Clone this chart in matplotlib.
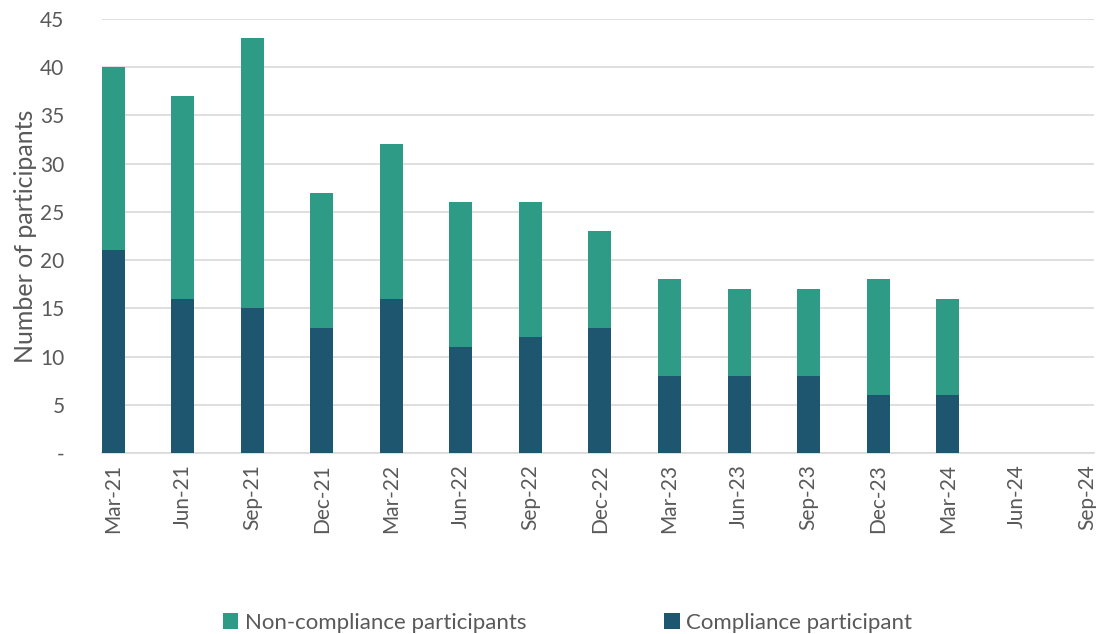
import matplotlib.pyplot as plt
import numpy as np

# quarterly participant counts
quarters = ['Mar-21', 'Jun-21', 'Sep-21', 'Dec-21', 'Mar-22', 'Jun-22', 'Sep-22',
            'Dec-22', 'Mar-23', 'Jun-23', 'Sep-23', 'Dec-23', 'Mar-24', 'Jun-24', 'Sep-24']
compliance = [21, 16, 15, 13, 16, 11, 12, 13, 8, 8, 8, 6, 6, 0, 0]
non_compliance = [19, 21, 28, 14, 16, 15, 14, 10, 10, 9, 9, 12, 10, 0, 0]
y_ticks = [0, 5, 10, 15, 20, 25, 30, 35, 40, 45]
y_tick_labels = ['-', '5', '10', '15', '20', '25', '30', '35', '40', '45']

dark = '#1d566e'
teal = '#2e9b87'
text_col = '#595959'
grid_col = '#d9d9d9'

plt.rcParams['font.family'] = ['Lato', 'DejaVu Sans']

fig = plt.figure(figsize=(10.96, 6.34), dpi=100)
ax = fig.add_axes([0.093, 0.2855, 0.905, 0.6845])

x = np.arange(len(quarters))
ax.bar(x, compliance, width=0.33, color=dark, zorder=3, label='Compliance participant')
ax.bar(x, non_compliance, width=0.33, bottom=compliance, color=teal, zorder=3,
       label='Non-compliance participants')

ax.set_xlim(-0.16, 14.1)
ax.set_ylim(0, 45)
ax.set_yticks(y_ticks)
ax.set_yticklabels(y_tick_labels)
ax.set_xticks(x)
ax.set_xticklabels(quarters, rotation=90)

ax.grid(True, axis='y', color=grid_col, linewidth=1.2, zorder=0)
for s in ['top', 'right', 'left']:
    ax.spines[s].set_visible(False)
ax.spines['bottom'].set_color(grid_col)
ax.spines['bottom'].set_linewidth(1.2)
ax.tick_params(axis='both', length=0, labelsize=15, colors=text_col)
ax.tick_params(axis='y', pad=27)
ax.tick_params(axis='x', pad=8)

ax.set_ylabel('Number of participants', fontsize=18, color=text_col, labelpad=2)

handles, labels = ax.get_legend_handles_labels()
fig.legend(handles[::-1], labels[::-1], loc='lower left', bbox_to_anchor=(0.185, -0.03),
           ncol=2, frameon=False, fontsize=16, labelcolor=text_col,
           handlelength=0.7, handleheight=0.7, handletextpad=0.3, columnspacing=6.2)

fig.savefig('out.png', dpi=100)
